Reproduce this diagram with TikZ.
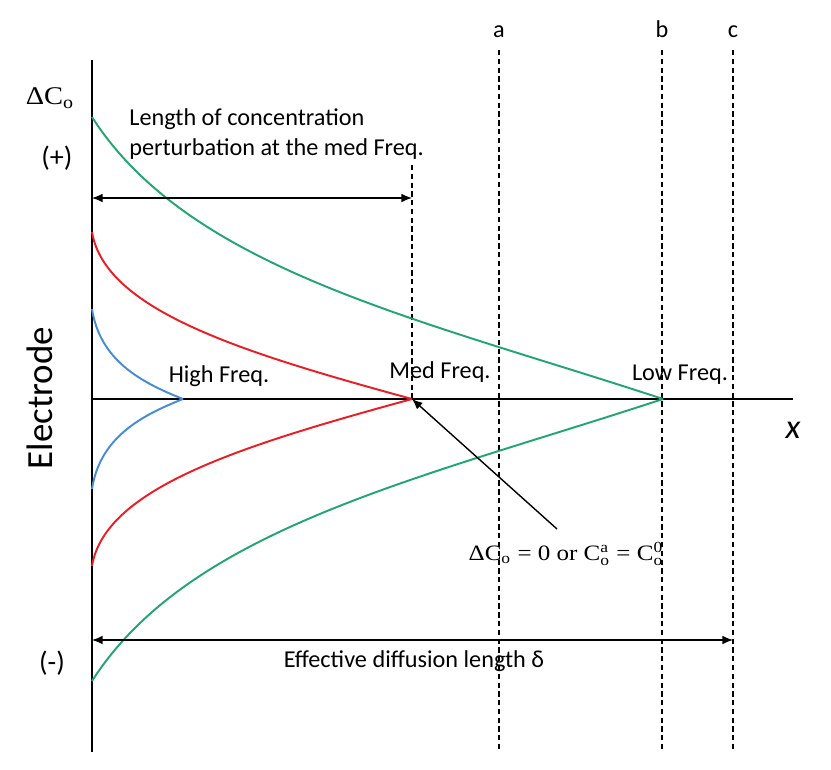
\documentclass[tikz,border=0pt]{standalone}
\usepackage{amsmath}
\usepackage{graphicx}
\usepackage{fontspec}
\setmainfont{Carlito}
\newfontfamily\tnr{Liberation Serif}
\usetikzlibrary{arrows.meta,calc}
\definecolor{lowgreen}{RGB}{35,165,115}
\definecolor{medred}{RGB}{235,28,36}
\definecolor{highblue}{RGB}{70,140,210}

\begin{document}
\begin{tikzpicture}[x=0.02cm,y=-0.02cm,
    font=\fontsize{13.8}{17}\selectfont,
    curve/.style={line width=1.1pt},
    axis/.style={line width=1.4pt},
    divider/.style={densely dashed,line width=0.8pt},
    span/.style={line width=0.9pt,{Latex[length=6pt,width=5pt]}-{Latex[length=6pt,width=5pt]}},
    pointer/.style={line width=0.8pt,-{Latex[length=6pt,width=5pt]}},
    serifbox/.style={font=\tnr\fontsize{12.5}{14}\selectfont,inner sep=0pt}]
        \useasboundingbox(0,0)rectangle(831,770);
        \coordinate(O)at(92,399);
        \coordinate(Ytop)at(92,60);
        \coordinate(Ybot)at(92,752);
        \coordinate(Xend)at(793,399);
        \coordinate(H)at(183,399);
        \coordinate(M)at(412,399);
        \coordinate(L)at(663,399);
        % axes
        \path[draw,axis](Ytop)to(Ybot);
        \path[draw,axis](O)to(Xend);
        \node[font=\fontsize{21}{24}\selectfont,rotate=90](electrode)at(40,398){Electrode};
        \node[font=\itshape\fontsize{19.5}{22}\selectfont,anchor=base](xlabel)at(793,438){x};
        \node[serifbox,font=\tnr\fontsize{14.5}{16}\selectfont](dc)at(50,98){\scalebox{1.12}[1]{ΔC$_{\text{o}}$}};
        \node[font=\fontsize{16}{18}\selectfont](plus)at(57,158){(+)};
        \node[font=\fontsize{16}{18}\selectfont](minus)at(52,663){(-)};
        % a, b, c
        \foreach \name/\px in {a/499,b/662,c/733}{
            \node[anchor=base](lbl\name)at(\px,38){\name};
            \path[draw,divider](\px,50)to(\px,752);
        }
        \path[draw,divider](412,165)to(M);
        % profiles
        \path[draw,curve,lowgreen](92,117) .. controls (190,270) and (420,319) .. (L);
        \path[draw,curve,lowgreen](92,681) .. controls (190,528) and (420,479) .. (L);
        \path[draw,curve,medred](92,232) .. controls (105,310) and (240,352) .. (M);
        \path[draw,curve,medred](92,566) .. controls (105,488) and (240,446) .. (M);
        \path[draw,curve,highblue](92,309) .. controls (100,360) and (140,382) .. (H);
        \path[draw,curve,highblue](92,489) .. controls (100,438) and (140,416) .. (H);
        \node[anchor=base](high)at(219,382){High Freq.};
        \node[anchor=base](med)at(440,378){Med Freq.};
        \node[anchor=base](low)at(680,380){Low Freq.};
        % lengths
        \coordinate(s1a)at(92,198);
        \coordinate(s1b)at(412,198);
        \coordinate(s2a)at(92,640);
        \coordinate(s2b)at(733,640);
        \path[draw,span](s1a)to(s1b);
        \path[draw,span](s2a)to(s2b);
        \node[align=left,anchor=north west,inner sep=0pt](medlen)at(129,108){Length of concentration\\perturbation at the med Freq.};
        \node[anchor=base](efflen)at(414,667){Effective diffusion length δ};
        % zero point
        \node[serifbox](eqn)at(566,554){\scalebox{1.14}[1]{ΔC$_{\text{o}}$ = 0 or C$^{\text{a}}_{\text{o}}$ = C$^{\text{0}}_{\text{o}}$}};
        \coordinate(ptail)at(557,529);
        \path[draw,pointer](ptail)to(M);
    \end{tikzpicture}
\end{document}
